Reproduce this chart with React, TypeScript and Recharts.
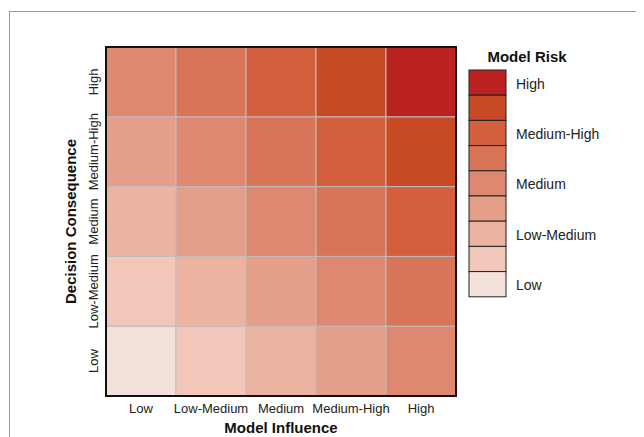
import React from 'react';
import { ScatterChart, Scatter, XAxis, YAxis, ReferenceArea, Label } from 'recharts';

const influenceLevels = ['Low', 'Low-Medium', 'Medium', 'Medium-High', 'High'];
const consequenceLevels = ['Low', 'Low-Medium', 'Medium', 'Medium-High', 'High'];
// riskGrid[consequence index][influence index] = risk level (0..8)
const riskGrid = [
  [0, 1, 2, 3, 4],
  [1, 2, 3, 4, 5],
  [2, 3, 4, 5, 6],
  [3, 4, 5, 6, 7],
  [4, 5, 6, 7, 8],
];
const riskColors = ['#f5e1dc', '#f2c6b9', '#ecb3a1', '#e59e89', '#de8872', '#d87559', '#d45f3c', '#c84a24', '#bb2320'];
const legendLabels = ['Low', '', 'Low-Medium', '', 'Medium', '', 'Medium-High', '', 'High'];
const legendTitle = 'Model Risk';
const xTitle = 'Model Influence';
const yTitle = 'Decision Consequence';

const FONT = '"Liberation Sans", Arial, Helvetica, sans-serif';
const tickValues = influenceLevels.map((_, i) => i + 0.5);

const cells = riskGrid.flatMap((row, j) =>
  row.map((level, i) => ({ x: i + 0.5, y: j + 0.5, i, j, level }))
);

const XTick = (p: any) => (
  <text x={p.x} y={p.y} dy={9} textAnchor="middle" fontSize={13} fontFamily={FONT} fill="#222">
    {influenceLevels[Math.floor(p.payload.value)]}
  </text>
);

const YTick = (p: any) => (
  <text
    x={p.x}
    y={p.y}
    textAnchor="middle"
    fontSize={13}
    fontFamily={FONT}
    fill="#222"
    transform={`rotate(-90, ${p.x}, ${p.y})`}
  >
    {consequenceLevels[Math.floor(p.payload.value)]}
  </text>
);

export default function App() {
  const W = 636;
  const H = 429;
  const boxX = 461;
  const boxY = 62;
  const boxW = 37;
  const boxH = 25.2;
  const legendItems = riskColors.map((c, k) => ({ color: c, label: legendLabels[k] })).reverse();
  return (
    <div style={{ position: 'relative', width: W, height: H, fontFamily: FONT }}>
      <style>{'html,body{overflow:hidden}'}</style>
      <div
        style={{
          position: 'absolute',
          left: 1,
          top: 3,
          width: 800,
          height: 700,
          border: '1px solid #999',
        }}
      />
      <div style={{ position: 'absolute', left: 0, top: 0 }}>
        <ScatterChart width={W} height={H} margin={{ top: 39, right: 188, bottom: 0, left: 0 }}>
          <XAxis
            type="number"
            dataKey="x"
            domain={[0, 5]}
            ticks={tickValues}
            interval={0}
            axisLine={false}
            tickLine={false}
            height={41}
            tick={XTick}
            allowDataOverflow
          >
            <Label
              content={(props: any) => {
                const vb = props.viewBox;
                return (
                  <text
                    x={vb.x + vb.width / 2}
                    y={vb.y + vb.height - 4}
                    textAnchor="middle"
                    fontSize={15}
                    fontWeight="bold"
                    fontFamily={FONT}
                    fill="#111"
                  >
                    {xTitle}
                  </text>
                );
              }}
            />
          </XAxis>
          <YAxis
            type="number"
            dataKey="y"
            domain={[0, 5]}
            ticks={tickValues}
            interval={0}
            axisLine={false}
            tickLine={false}
            width={98}
            tick={YTick}
            allowDataOverflow
          >
            <Label
              content={(props: any) => {
                const vb = props.viewBox;
                const cx = vb.x + 62;
                const cy = vb.y + vb.height / 2;
                return (
                  <text
                    x={cx}
                    y={cy}
                    textAnchor="middle"
                    dominantBaseline="central"
                    fontSize={15}
                    fontWeight="bold"
                    fontFamily={FONT}
                    fill="#111"
                    transform={`rotate(-90, ${cx}, ${cy})`}
                  >
                    {yTitle}
                  </text>
                );
              }}
            />
          </YAxis>
          {cells.map((c) => (
            <ReferenceArea
              key={`${c.i}-${c.j}`}
              x1={c.i}
              x2={c.i + 1}
              y1={c.j}
              y2={c.j + 1}
              fill={riskColors[c.level]}
              fillOpacity={1}
              stroke="#bdbdbd"
              strokeWidth={1}
              ifOverflow="visible"
            />
          ))}
          <ReferenceArea
            x1={0}
            x2={5}
            y1={0}
            y2={5}
            fill="none"
            fillOpacity={0}
            stroke="#111"
            strokeWidth={2}
            ifOverflow="visible"
          />
          <Scatter data={cells} isAnimationActive={false} shape={() => <g />} />
        </ScatterChart>
      </div>
      <svg
        width={W}
        height={H}
        style={{ position: 'absolute', left: 0, top: 0, pointerEvents: 'none' }}
      >
        <text
          x={boxX + 58}
          y={48}
          textAnchor="middle"
          dominantBaseline="central"
          fontSize={15}
          fontWeight="bold"
          fontFamily={FONT}
          fill="#111"
        >
          {legendTitle}
        </text>
        {legendItems.map((it, k) => (
          <g key={k}>
            <rect
              x={boxX}
              y={boxY + k * boxH}
              width={boxW}
              height={boxH}
              fill={it.color}
              stroke="#222"
              strokeWidth={1}
            />
            {it.label ? (
              <text
                x={boxX + boxW + 10}
                y={boxY + k * boxH + boxH / 2 + 1}
                dominantBaseline="central"
                fontSize={14}
                fontFamily={FONT}
                fill="#222"
              >
                {it.label}
              </text>
            ) : null}
          </g>
        ))}
      </svg>
    </div>
  );
}
